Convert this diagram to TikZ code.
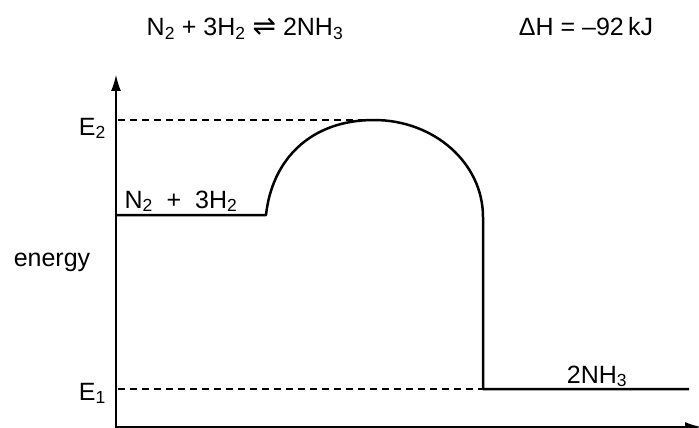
\documentclass[tikz,border=0pt]{standalone}
\usepackage{fontspec}
\setmainfont{Liberation Sans}
\newfontfamily\dvfont{DejaVu Sans}
\usetikzlibrary{arrows.meta}
\begin{document}
\begin{tikzpicture}[x=1pt,y=-1pt,
  axis/.style={line width=2.5pt,-{Latex[length=17pt,width=10pt]}},
  curve/.style={line width=2.5pt,line join=round},
  guide/.style={line width=1.4pt,dash pattern=on 7pt off 5pt},
  lbl/.style={font=\fontsize{25}{28}\selectfont,inner sep=0pt}]
\useasboundingbox (0,0) rectangle (699,428);
% coordinates
\coordinate (Ytop) at (116,74);
\coordinate (Ybot) at (116,428);
\coordinate (X0) at (115,427);
\coordinate (Xend) at (702,427);
\coordinate (R0) at (116,215);
\coordinate (R1) at (266,215);
\coordinate (Top) at (374,120);
\coordinate (D0) at (483,217);
\coordinate (D1) at (483,389);
\coordinate (P1) at (689,389);
\coordinate (E2a) at (118,120);
\coordinate (E1a) at (118,389);
% axes
\draw[axis] (Ybot) -- (Ytop);
\draw[axis] (X0) -- (Xend);
% dashed guides
\draw[guide] (E2a) -- (Top);
\draw[guide] (E1a) -- (D1);
% profile
\draw[curve] (R0) -- (R1) .. controls (272,160) and (310,120) .. (Top)
  .. controls (434,120) and (483,163) .. (D0) -- (D1) -- (P1);
% labels
\node[lbl,anchor=base] (eq) at (245,36) {N\textsubscript{2} + 3H\textsubscript{2} {\dvfont\fontsize{28}{28}\selectfont ⇌} 2NH\textsubscript{3}};
\node[lbl,anchor=base] (dh) at (586,36) {ΔH = –92\,kJ};
\node[lbl,anchor=base east] (e2) at (106,135) {E\textsubscript{2}};
\node[lbl,anchor=base east] (e1) at (106,400) {E\textsubscript{1}};
\node[lbl,anchor=base] (en) at (52,266) {energy};
\node[lbl,anchor=base] (re) at (181,208) {N\textsubscript{2}\ \ +\ \ 3H\textsubscript{2}};
\node[lbl,anchor=base] (pr) at (597,383) {2NH\textsubscript{3}};
\end{tikzpicture}
\end{document}
